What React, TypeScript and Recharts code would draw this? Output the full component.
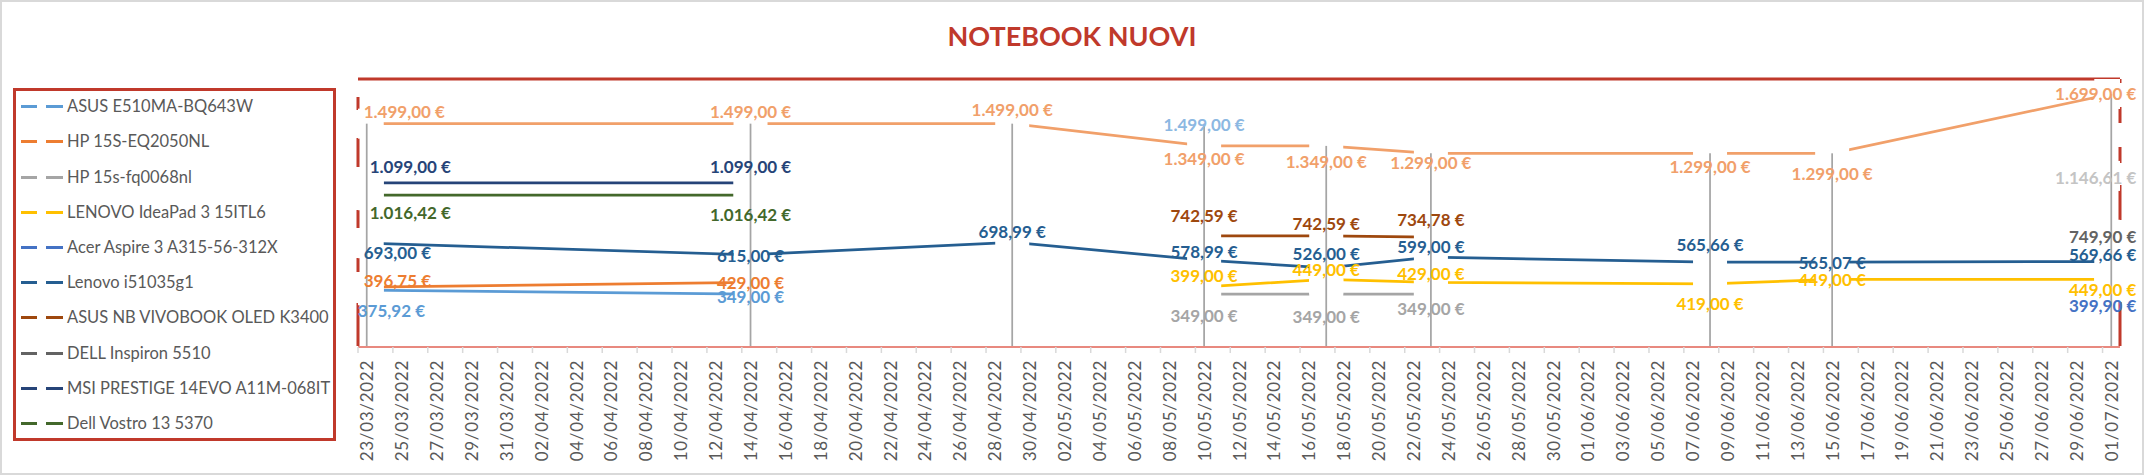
import React from 'react';
import { ComposedChart, Line, XAxis, YAxis, ReferenceLine, LabelList } from 'recharts';

// ---------- DATA ----------
const dataDates = ['23/03/2022', '14/04/2022', '29/04/2022', '10/05/2022', '17/05/2022', '23/05/2022', '08/06/2022', '15/06/2022', '01/07/2022'];

const tickLabels = [
  '23/03/2022', '25/03/2022', '27/03/2022', '29/03/2022', '31/03/2022', '02/04/2022', '04/04/2022', '06/04/2022', '08/04/2022', '10/04/2022',
  '12/04/2022', '14/04/2022', '16/04/2022', '18/04/2022', '20/04/2022', '22/04/2022', '24/04/2022', '26/04/2022', '28/04/2022', '30/04/2022',
  '02/05/2022', '04/05/2022', '06/05/2022', '08/05/2022', '10/05/2022', '12/05/2022', '14/05/2022', '16/05/2022', '18/05/2022', '20/05/2022',
  '22/05/2022', '24/05/2022', '26/05/2022', '28/05/2022', '30/05/2022', '01/06/2022', '03/06/2022', '05/06/2022', '07/06/2022', '09/06/2022',
  '11/06/2022', '13/06/2022', '15/06/2022', '17/06/2022', '19/06/2022', '21/06/2022', '23/06/2022', '25/06/2022', '27/06/2022', '29/06/2022',
  '01/07/2022',
];

const asusE510 = [375.92, 349.0, null, null, null, null, null, null, null];
const hpEq2050 = [396.75, 429.0, null, null, null, null, null, null, null];
const hpFq0068 = [null, null, null, 349.0, 349.0, 349.0, null, null, null];
const lenovoIdeaPad = [null, null, null, 399.0, 449.0, 429.0, 419.0, 449.0, 449.0];
const acerAspire = [null, null, null, null, null, null, null, null, 399.9];
const lenovoI5 = [693.0, 615.0, 698.99, 578.99, 526.0, 599.0, 565.66, 565.07, 569.66];
const asusVivobook = [null, null, null, 742.59, 742.59, 734.78, null, null, null];
const dellInspiron = [null, null, null, null, null, null, null, null, 749.9];
const msiPrestige = [1099.0, 1099.0, null, null, null, null, null, null, null];
const dellVostro = [1016.42, 1016.42, null, null, null, null, null, null, null];
const extraOrange = [1499.0, 1499.0, 1499.0, 1349.0, 1349.0, 1299.0, 1299.0, 1299.0, 1699.0];
const extraBlue = [null, null, null, 1499.0, null, null, null, null, null];
const extraGray = [null, null, null, null, null, null, null, null, 1146.61];

type Series = { key: string; name: string; color: string; values: (number | null)[]; legend: boolean };

const seriesList: Series[] = [
  { key: 'asusE510', name: 'ASUS E510MA-BQ643W', color: '#5B9BD5', values: asusE510, legend: true },
  { key: 'hpEq2050', name: 'HP 15S-EQ2050NL', color: '#ED7D31', values: hpEq2050, legend: true },
  { key: 'hpFq0068', name: 'HP 15s-fq0068nl', color: '#A5A5A5', values: hpFq0068, legend: true },
  { key: 'lenovoIdeaPad', name: 'LENOVO IdeaPad 3 15ITL6', color: '#FFC000', values: lenovoIdeaPad, legend: true },
  { key: 'acerAspire', name: 'Acer Aspire 3 A315-56-312X', color: '#4472C4', values: acerAspire, legend: true },
  { key: 'lenovoI5', name: 'Lenovo i51035g1', color: '#255E91', values: lenovoI5, legend: true },
  { key: 'asusVivobook', name: 'ASUS NB VIVOBOOK OLED K3400', color: '#9E480E', values: asusVivobook, legend: true },
  { key: 'dellInspiron', name: 'DELL Inspiron 5510', color: '#636363', values: dellInspiron, legend: true },
  { key: 'msiPrestige', name: 'MSI PRESTIGE 14EVO A11M-068IT', color: '#264478', values: msiPrestige, legend: true },
  { key: 'dellVostro', name: 'Dell Vostro 13 5370', color: '#43682B', values: dellVostro, legend: true },
  { key: 'extraOrange', name: 'extraOrange', color: '#F1A06A', values: extraOrange, legend: false },
  { key: 'extraBlue', name: 'extraBlue', color: '#8CB8E2', values: extraBlue, legend: false },
  { key: 'extraGray', name: 'extraGray', color: '#C4C4C4', values: extraGray, legend: false },
];

// label placement (style only): vertical offset per point, and x offset for the first point
const labelDy: Record<string, number[]> = {
  asusE510: [20, 2],
  hpEq2050: [-7, 0],
  hpFq0068: [0, 0, 0, 21, 22, 14],
  lenovoIdeaPad: [0, 0, 0, -11, -10, -9, 20, 0, 10],
  acerAspire: [0, 0, 0, 0, 0, 0, 0, 0, 19],
  lenovoI5: [9, 1, -11, -9, -14, -11, -18, 0, -7],
  asusVivobook: [0, 0, 0, -20, -12, -18],
  dellInspiron: [0, 0, 0, 0, 0, 0, 0, 0, 2],
  msiPrestige: [-16, -16],
  dellVostro: [17, 19],
  extraOrange: [-12, -12, -14, 13, 16, 9, 13, 20, 0],
  extraBlue: [0, 0, 0, 1],
  extraGray: [0, 0, 0, 0, 0, 0, 0, 0, 2],
};
const labelDx0: Record<string, number> = {
  asusE510: -9, hpEq2050: -3, lenovoI5: -3, msiPrestige: 3, dellVostro: 3, extraOrange: -3,
};

// ---------- DERIVED ----------
const parseDay = (s: string) => {
  const [d, m, y] = s.split('/').map(Number);
  return Date.UTC(y, m - 1, d);
};
const dayOf = (s: string) => Math.round((parseDay(s) - parseDay(tickLabels[0])) / 86400000);
const tickDays = tickLabels.map(dayOf);
const markTicks = tickDays.map((d) => d - 0.5);
const lastDay = tickDays[tickDays.length - 1];
const xDomain = [-0.5, lastDay + 0.5];

const rows = dataDates.map((d, i) => {
  const row: Record<string, number | null> = { t: dayOf(d) };
  const vals: number[] = [];
  seriesList.forEach((s) => {
    row[s.key] = s.values[i];
    if (s.values[i] != null) vals.push(s.values[i] as number);
  });
  row.maxVal = Math.max(...vals);
  return row;
});

const fmt = (v: number) => {
  const [i, dec] = v.toFixed(2).split('.');
  return `${i.replace(/\B(?=(\d{3})+(?!\d))/g, '.')},${dec} €`;
};

// ---------- LAYOUT ----------
const W = 2144;
const H = 475;
const M = { top: 79, right: 24, bottom: 127, left: 358 };
const PLOT_BOTTOM = H - M.bottom - 2;
const RED = '#C0392B';
const FONT = 'Lato, "Open Sans", sans-serif';

const DateTick = (props: any) => {
  const { x, y, payload } = props;
  const idx = tickDays.indexOf(payload.value);
  return (
    <text x={x} y={y} transform={`rotate(-90, ${x}, ${y})`} textAnchor="end" dominantBaseline="central"
      fill="#595959" fontSize={17} fontFamily={FONT} letterSpacing={0.7}>
      {idx >= 0 ? tickLabels[idx] : ''}
    </text>
  );
};
const EmptyTick = () => <g />;

const markerDot = (props: any) => {
  const { cx, cy, index, value } = props;
  if (cx == null || cy == null || value == null || Number.isNaN(cy)) return <g key={`m-${index}`} />;
  return <rect key={`m-${index}`} x={cx - 17} y={cy - 15} width={34} height={30} fill="#ffffff" />;
};

const dropDot = (props: any) => {
  const { cx, cy, index } = props;
  if (cx == null || cy == null) return <g key={`dl-${index}`} />;
  return <line key={`dl-${index}`} x1={cx} x2={cx} y1={cy} y2={PLOT_BOTTOM} stroke="#A5A5A5" strokeWidth={1.75} />;
};

const makeLabel = (s: Series) => (props: any) => {
  const { x, y, value, index } = props;
  if (value == null || x == null || y == null) return null;
  const dy = (labelDy[s.key] && labelDy[s.key][index]) || 0;
  let anchor: 'start' | 'middle' | 'end' = 'middle';
  let dx = 0;
  if (index === 0) {
    anchor = 'start';
    dx = labelDx0[s.key] ?? -3;
  } else if (index === dataDates.length - 1) {
    anchor = 'end';
    dx = 25;
  }
  return (
    <text key={`lb-${s.key}-${index}`} x={x + dx} y={y + dy} textAnchor={anchor} dominantBaseline="central"
      fill={s.color} fontFamily={FONT} fontWeight={700} fontSize={17}>
      {fmt(Number(value))}
    </text>
  );
};

const legendItems = seriesList.filter((s) => s.legend);

export default function App() {
  return (
    <div style={{ position: 'absolute', left: 0, top: 0, width: W, height: H, background: '#fff', overflow: 'hidden' }}>
      <div style={{ position: 'absolute', left: 0, top: 0, width: W, height: H, boxSizing: 'border-box', border: '2px solid #D9D9D9' }} />
      <ComposedChart width={W} height={H} data={rows} margin={M} style={{ position: 'absolute', left: 0, top: 0 }}>
        <XAxis xAxisId="marks" dataKey="t" type="number" domain={xDomain} ticks={markTicks} interval={0}
          tick={EmptyTick} tickSize={6} tickLine={{ stroke: '#D9D9D9', strokeWidth: 1.5 }}
          axisLine={{ stroke: '#E8897F', strokeWidth: 2 }} height={1} allowDataOverflow />
        <XAxis xAxisId="lab" dataKey="t" type="number" domain={xDomain} ticks={tickDays} interval={0}
          tick={DateTick} tickLine={false} axisLine={false} tickSize={6} tickMargin={8} height={1} allowDataOverflow />
        <YAxis hide type="number" domain={[0, 1800]} allowDataOverflow />

        {seriesList.map((s) => (
          <Line key={`ln-${s.key}`} xAxisId="lab" type="linear" dataKey={s.key} stroke={s.color} strokeWidth={2.75}
            dot={markerDot} activeDot={false} isAnimationActive={false} legendType="none" />
        ))}

        <Line xAxisId="lab" type="linear" dataKey="maxVal" stroke="none" dot={dropDot} activeDot={false}
          isAnimationActive={false} legendType="none" />

        {seriesList.map((s) => (
          <Line key={`lbl-${s.key}`} xAxisId="lab" type="linear" dataKey={s.key} stroke="none" dot={false}
            activeDot={false} isAnimationActive={false} legendType="none">
            <LabelList dataKey={s.key} content={makeLabel(s)} />
          </Line>
        ))}

        <ReferenceLine xAxisId="lab" segment={[{ x: xDomain[0], y: 1800 }, { x: xDomain[1], y: 1800 }]} stroke={RED} strokeWidth={3} />
        <ReferenceLine xAxisId="lab" segment={[{ x: xDomain[0], y: 1800 }, { x: xDomain[0], y: 0 }]} stroke={RED} strokeWidth={3}
          strokeDasharray="0 18 13 28 29 43 18 30 14 31 43" />
        <ReferenceLine xAxisId="lab" segment={[{ x: xDomain[1], y: 1800 }, { x: xDomain[1], y: 0 }]} stroke={RED} strokeWidth={3}
          strokeDasharray="4 24 16 24 16 22 35 82 45" />
      </ComposedChart>

      <div style={{ position: 'absolute', left: 0, top: 22, width: W, textAlign: 'center', fontFamily: FONT, fontWeight: 700,
        fontSize: 27, lineHeight: '27px', color: RED }}>
        NOTEBOOK NUOVI
      </div>

      <div style={{ position: 'absolute', left: 13, top: 88, width: 323, height: 353, boxSizing: 'border-box',
        border: `3px solid ${RED}`, background: '#fff' }}>
        {legendItems.map((s, i) => (
          <div key={s.key} style={{ position: 'absolute', left: 0, top: -1.9 + 35.2 * i, height: 35.2, width: 317 }}>
            <div style={{ position: 'absolute', left: 5.4, top: 16.1, width: 16, height: 3, background: s.color }} />
            <div style={{ position: 'absolute', left: 30.4, top: 16.1, width: 17, height: 3, background: s.color }} />
            <div style={{ position: 'absolute', left: 51, top: 0, height: 35.2, lineHeight: '35.2px', fontFamily: FONT,
              fontSize: 16.5, color: '#595959', whiteSpace: 'nowrap' }}>
              {s.name}
            </div>
          </div>
        ))}
      </div>
    </div>
  );
}
